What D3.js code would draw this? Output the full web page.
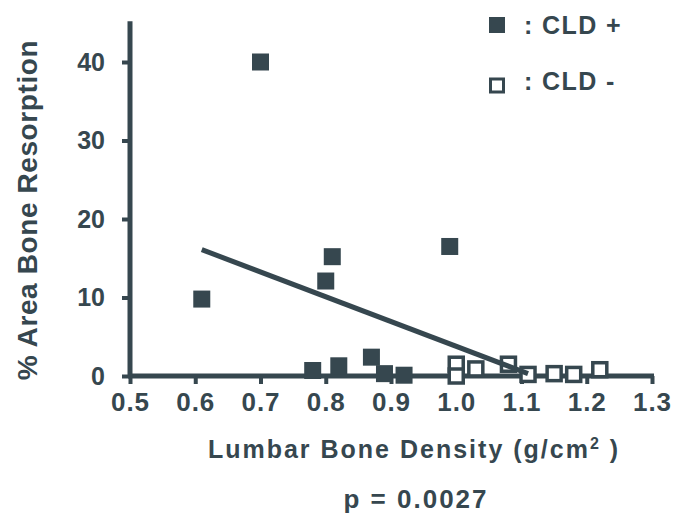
<!DOCTYPE html>
<html><head><meta charset="utf-8">
<script src="https://cdn.jsdelivr.net/npm/d3@7"></script>
<style>body{margin:0;background:#fff}svg{display:block}text{font-family:"Liberation Sans",Arial,sans-serif;font-weight:bold;fill:#36474f}</style>
</head><body>
<svg id="c" width="684" height="517"></svg>
<script>
// CLD + (filled squares)
const cldPlusX = [0.70, 0.61, 0.81, 0.80, 0.99, 0.78, 0.82, 0.87, 0.89, 0.92];
const cldPlusY = [40.0, 9.8, 15.2, 12.1, 16.5, 0.7, 1.3, 2.4, 0.3, 0.1];
// CLD - (open squares)
const cldMinusX = [1.00, 1.00, 1.03, 1.08, 1.11, 1.15, 1.18, 1.22];
const cldMinusY = [1.5, 0.0, 0.9, 1.5, 0.2, 0.3, 0.2, 0.8];
// regression line endpoints
const fitX = [0.61, 1.11];
const fitY = [16.1, 0.3];
const xTicks = [0.5, 0.6, 0.7, 0.8, 0.9, 1.0, 1.1, 1.2, 1.3];
const yTicks = [0, 10, 20, 30, 40];
const legendLabels = [": CLD +", ": CLD -"];

const col = "#36474f";
const svg = d3.select("#c");
const x = d3.scaleLinear().domain([0.5, 1.3]).range([130, 652]);
const y = d3.scaleLinear().domain([0, 40]).range([376, 62]);

// axes
const xAxis = svg.append("g").attr("transform", `translate(0,${y(0)})`)
  .call(d3.axisBottom(x).tickValues(xTicks).tickFormat(d3.format(".1f")).tickSize(8).tickPadding(9));
const yAxis = svg.append("g").attr("transform", `translate(${x(0.5)},0)`)
  .call(d3.axisLeft(y).tickValues(yTicks).tickSize(8).tickPadding(17));
[xAxis, yAxis].forEach(g => {
  g.select(".domain").remove();
  g.selectAll("line").attr("stroke", col).attr("stroke-width", 4);
  g.selectAll("text").attr("fill", col).style("font-family", '"Liberation Sans",Arial,sans-serif').style("font-weight", "bold");
});
xAxis.selectAll("text").style("font-size", "26px").style("letter-spacing", "1px");
yAxis.selectAll("text").style("font-size", "25px");
// axis lines
svg.append("line").attr("x1", x(0.5) - 2).attr("x2", x(1.3) + 2).attr("y1", y(0)).attr("y2", y(0)).attr("stroke", col).attr("stroke-width", 5);
svg.append("line").attr("x1", x(0.5)).attr("x2", x(0.5)).attr("y1", y(0) + 2).attr("y2", y(45.2)).attr("stroke", col).attr("stroke-width", 5);

const S = 17;
svg.append("g").selectAll("rect").data(cldMinusX.map((d, i) => [d, cldMinusY[i]])).join("rect")
  .attr("x", d => x(d[0]) - S / 2 + 1.5).attr("y", d => y(d[1]) - S / 2 + 1.5).attr("width", S - 3).attr("height", S - 3)
  .attr("fill", "#fff").attr("stroke", col).attr("stroke-width", 3.5);
svg.append("g").selectAll("rect").data(cldPlusX.map((d, i) => [d, cldPlusY[i]])).join("rect")
  .attr("x", d => x(d[0]) - S / 2).attr("y", d => y(d[1]) - S / 2).attr("width", S).attr("height", S)
  .attr("fill", col);

// fit line
svg.append("line").attr("x1", x(fitX[0])).attr("y1", y(fitY[0])).attr("x2", x(fitX[1])).attr("y2", y(fitY[1]))
  .attr("stroke", col).attr("stroke-width", 5);

// legend
svg.append("rect").attr("x", 489).attr("y", 17).attr("width", 16).attr("height", 16).attr("fill", col);
svg.append("rect").attr("x", 490.5).attr("y", 79).attr("width", 13).attr("height", 13).attr("fill", "#fff").attr("stroke", col).attr("stroke-width", 3);
svg.append("text").attr("x", 524).attr("y", 34).style("font-size", "25px").style("letter-spacing", "1.4px").text(legendLabels[0]);
svg.append("text").attr("x", 524).attr("y", 90).style("font-size", "25px").style("letter-spacing", "1.4px").text(legendLabels[1]);

// titles
const xt = svg.append("text").attr("x", 414).attr("y", 458).attr("text-anchor", "middle").style("font-size", "25px").style("letter-spacing", "2px");
xt.append("tspan").text("Lumbar Bone Density (g/cm");
xt.append("tspan").attr("dy", -9).style("font-size", "16px").text("2");
xt.append("tspan").attr("dy", 9).text(" )");
svg.append("text").attr("transform", "translate(37,210) rotate(-90)").attr("text-anchor", "middle").style("font-size", "28px").style("letter-spacing", "0.6px").text("% Area Bone Resorption");
svg.append("text").attr("x", 416).attr("y", 508).attr("text-anchor", "middle").style("font-size", "26px").style("letter-spacing", "2px").text("p = 0.0027");
</script>
</body></html>
